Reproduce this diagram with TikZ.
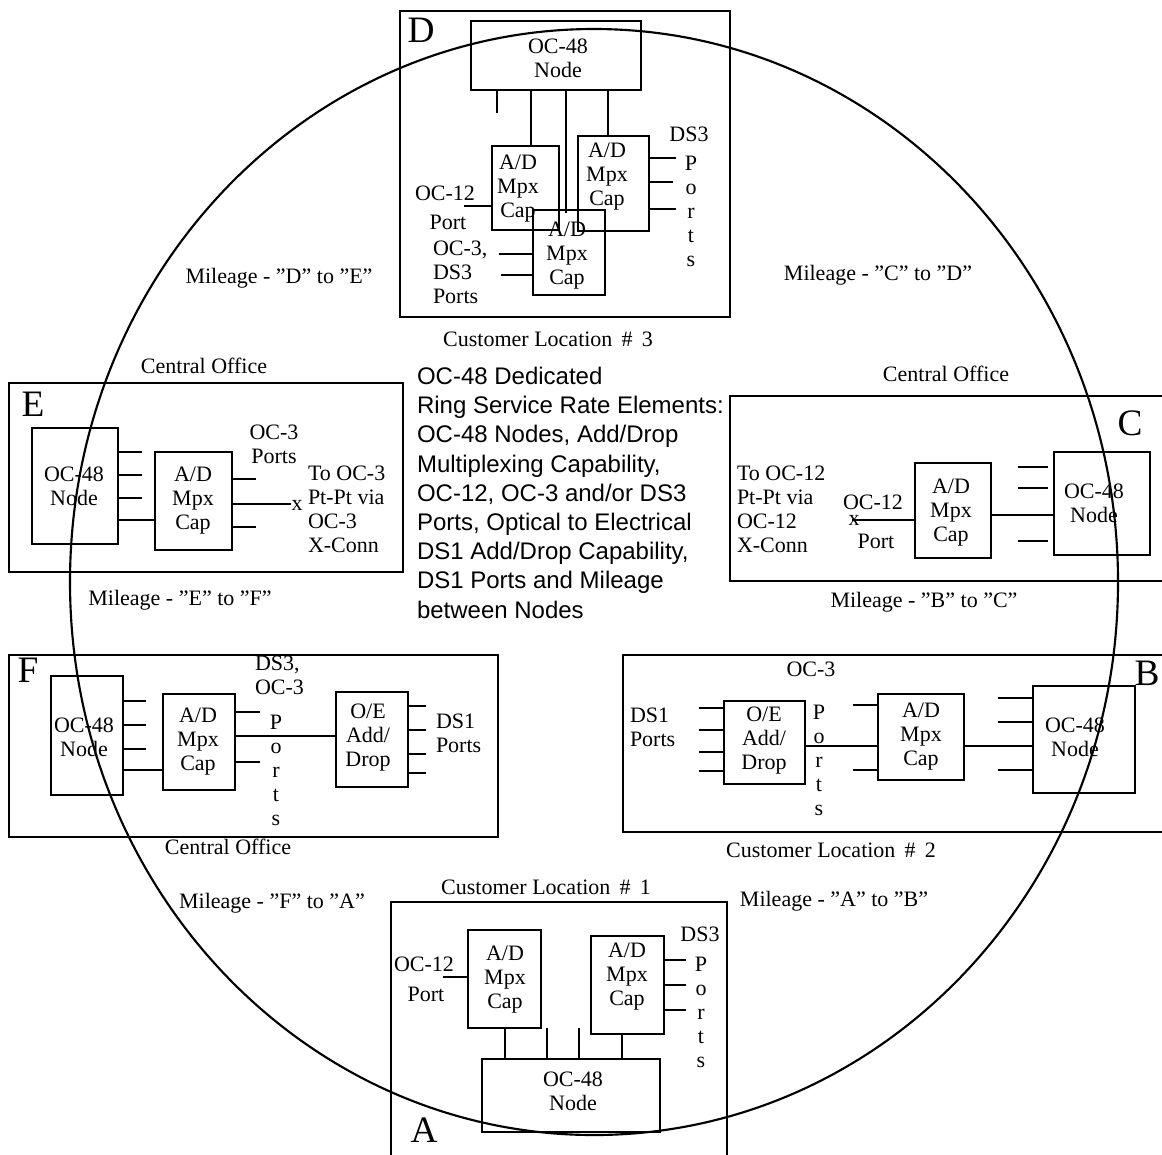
\documentclass[tikz,border=0pt]{standalone}
\usepackage{fontspec}
\setmainfont{Liberation Serif}
\newfontfamily\ringfont{Liberation Sans}
\usetikzlibrary{fit}
\tikzset{
  every node/.style={inner sep=0pt, outer sep=0pt},
  boxnode/.style={draw, line width=1.6pt},
  lab/.style={font=\fontsize{16.5}{18}\selectfont, align=center},
  labl/.style={font=\fontsize{16.5}{18}\selectfont, align=left},
  sitelab/.style={font=\fontsize{28}{30}\selectfont},
  stub/.style={line width=1.6pt}
}
\begin{document}
\begin{tikzpicture}[x=0.75pt, y=-0.75pt]
    \useasboundingbox (0,0) rectangle (1162,1154);
    % site D
    \node[boxnode, fit={(400,11) (730,317)}] (boxD) {};
    \node[boxnode, fit={(471,21) (641,90)}] (nodeD) {};
    \node[boxnode, fit={(492,146) (559,230)}] (capDa) {};
    \node[boxnode, fit={(578,136) (649,231)}] (capDb) {};
    \node[boxnode, fit={(533,210) (605,295)}] (capDc) {};
    \node[sitelab] (siteD) at (421,30) {D};
    \node[lab] (tNodeD) at (558,58) {OC-48\\Node};
    \node[lab] (tCapDa) at (518,189) {A/D\\Mpx\\Cap};
    \node[lab] (tCapDb) at (607,177) {A/D\\Mpx\\Cap};
    \node[lab] (tCapDc) at (567,256) {A/D\\Mpx\\Cap};
    \node[lab] (tDsD) at (689,134) {DS3};
    \node[lab] (tPortsD) at (691,211) {P\\o\\r\\t\\s};
    \node[lab] (tOcD) at (445,193) {OC-12};
    \node[lab] (tPortD) at (448,222) {Port};
    \node[labl, anchor=north west] (tOc3D) at (433,241) {OC-3,\\DS3\\Ports};
    \coordinate (dStubA) at (497,113);
    \draw[stub] (nodeD.south -| dStubA) -- (dStubA);
    \draw[stub] (nodeD.south -| 531,0) -- (capDa.north -| 531,0);
    \coordinate (dStubB) at (566,213);
    \draw[stub] (nodeD.south -| dStubB) -- (dStubB);
    \draw[stub] (nodeD.south -| 608,0) -- (capDb.north -| 608,0);
    \foreach \y/\x in {158/676, 182/673, 209/676} {
        \coordinate (dR\y) at (\x,\y);
        \draw[stub] (capDb.east |- dR\y) -- (dR\y);
    }
    \coordinate (dOc) at (464,206);
    \draw[stub] (capDa.west |- dOc) -- (dOc);
    \foreach \y/\x in {254/499, 275/501} {
        \coordinate (dL\y) at (\x,\y);
        \draw[stub] (capDc.west |- dL\y) -- (dL\y);
    }
    \node[lab] (custD) at (548,339) {Customer Location \,\#\, 3};
    % site E
    \node[boxnode, fit={(9,383) (403,572)}] (boxE) {};
    \node[boxnode, fit={(32,428) (118,544)}] (nodeE) {};
    \node[boxnode, fit={(155,452) (232,550)}] (capE) {};
    \node[sitelab] (siteE) at (33,404) {E};
    \node[lab] (tNodeE) at (74,486) {OC-48\\Node};
    \node[lab] (tCapE) at (193,501) {A/D\\Mpx\\Cap};
    \node[lab] (tOcE) at (274,444) {OC-3\\Ports};
    \node[labl, anchor=north west] (tToE) at (308,466) {To OC-3\\Pt-Pt via\\OC-3\\X-Conn};
    \node[lab] (tCrossE) at (297,505) {x};
    \foreach \y in {452,475,498} {
        \coordinate (eR\y) at (142,\y);
        \draw[stub] (nodeE.east |- eR\y) -- (eR\y);
    }
    \draw[stub] (nodeE.east |- 0,520) -- (capE.west |- 0,520);
    \foreach \y/\x in {479/256, 504/291, 527/256} {
        \coordinate (eS\y) at (\x,\y);
        \draw[stub] (capE.east |- eS\y) -- (eS\y);
    }
    \node[lab] (coE) at (204,366) {Central Office};
    % site C
    \node[boxnode, fit={(730,396) (1175,581)}] (boxC) {};
    \node[boxnode, fit={(1054,452) (1150,555)}] (nodeC) {};
    \node[boxnode, fit={(915,463) (991,558)}] (capC) {};
    \node[sitelab] (siteC) at (1130,423) {C};
    \node[lab] (tNodeC) at (1094,503) {OC-48\\Node};
    \node[lab] (tCapC) at (951,513) {A/D\\Mpx\\Cap};
    \node[labl, anchor=north west] (tToC) at (737,466) {To OC-12\\Pt-Pt via\\OC-12\\X-Conn};
    \node[lab] (tOcC) at (873,502) {OC-12};
    \node[lab] (tPortC) at (876,541) {Port};
    \node[lab] (tCrossC) at (854,520) {x};
    \coordinate (cOc) at (852,520);
    \draw[stub] (capC.west |- cOc) -- (cOc);
    \foreach \y in {467,488,541} {
        \coordinate (cL\y) at (1018,\y);
        \coordinate (cE\y) at (1048,\y);
        \draw[stub] (cL\y) -- (cE\y);
    }
    \draw[stub] (capC.east |- 0,515) -- (nodeC.west |- 0,515);
    \node[lab] (coC) at (946,374) {Central Office};
    \node[lab] (mileBC) at (924,602) {Mileage - "B" to "C"};
    % site F
    \node[boxnode, fit={(9,655) (498,837)}] (boxF) {};
    \node[boxnode, fit={(51,676) (123,795)}] (nodeF) {};
    \node[boxnode, fit={(163,694) (235,790)}] (capF) {};
    \node[boxnode, fit={(336,692) (408,787)}] (oeF) {};
    \node[sitelab] (siteF) at (28,670) {F};
    \node[lab] (tNodeF) at (84,737) {OC-48\\Node};
    \node[lab] (tCapF) at (198,742) {A/D\\Mpx\\Cap};
    \node[lab] (tOeF) at (368,738) {O/E\\Add/\\Drop};
    \node[labl, anchor=north west] (tDsF) at (255,656) {DS3,\\OC-3};
    \node[lab] (tPortsF) at (276,770) {P\\o\\r\\t\\s};
    \node[labl, anchor=north west] (tDs1F) at (436,714) {DS1\\Ports};
    \foreach \y in {701,725,749} {
        \coordinate (fR\y) at (146,\y);
        \draw[stub] (nodeF.east |- fR\y) -- (fR\y);
    }
    \draw[stub] (nodeF.east |- 0,770) -- (capF.west |- 0,770);
    \coordinate (fS712) at (260,712);
    \coordinate (fS762) at (260,762);
    \draw[stub] (capF.east |- fS712) -- (fS712);
    \draw[stub] (capF.east |- fS762) -- (fS762);
    \draw[stub] (capF.east |- 0,736) -- (oeF.west |- 0,736);
    \foreach \y in {706,730,754,773} {
        \coordinate (fT\y) at (426,\y);
        \draw[stub] (oeF.east |- fT\y) -- (fT\y);
    }
    \node[lab] (coF) at (228,847) {Central Office};
    % site B
    \node[boxnode, fit={(623,655) (1175,832)}] (boxB) {};
    \node[boxnode, fit={(1033,686) (1135,793)}] (nodeB) {};
    \node[boxnode, fit={(878,694) (964,780)}] (capB) {};
    \node[boxnode, fit={(724,701) (805,784)}] (oeB) {};
    \node[sitelab] (siteB) at (1147,673) {B};
    \node[lab] (tNodeB) at (1075,737) {OC-48\\Node};
    \node[lab] (tCapB) at (921,737) {A/D\\Mpx\\Cap};
    \node[lab] (tOeB) at (764,741) {O/E\\Add/\\Drop};
    \node[lab] (tOcB) at (811,669) {OC-3};
    \node[lab] (tPortsB) at (819,760) {P\\o\\r\\t\\s};
    \node[labl, anchor=north west] (tDs1B) at (630,708) {DS1\\Ports};
    \foreach \y in {708,730,752,771} {
        \coordinate (bL\y) at (699,\y);
        \draw[stub] (oeB.west |- bL\y) -- (bL\y);
    }
    \draw[stub] (oeB.east |- 0,746) -- (capB.west |- 0,746);
    \foreach \y in {705,770} {
        \coordinate (bM\y) at (853,\y);
        \draw[stub] (capB.west |- bM\y) -- (bM\y);
    }
    \draw[stub] (capB.east |- 0,746) -- (nodeB.west |- 0,746);
    \foreach \y in {698,722,770} {
        \coordinate (bN\y) at (998,\y);
        \draw[stub] (nodeB.west |- bN\y) -- (bN\y);
    }
    \node[lab] (custB) at (831,850) {Customer Location \,\#\, 2};
    % site A
    \node[boxnode, fit={(391,902) (727,1170)}] (boxA) {};
    \node[boxnode, fit={(482,1059) (660,1132)}] (nodeA) {};
    \node[boxnode, fit={(468,930) (541,1028)}] (capAa) {};
    \node[boxnode, fit={(591,936) (664,1034)}] (capAb) {};
    \node[sitelab] (siteA) at (424,1130) {A};
    \node[lab] (tNodeA) at (573,1091) {OC-48\\Node};
    \node[lab] (tCapAa) at (505,980) {A/D\\Mpx\\Cap};
    \node[lab] (tCapAb) at (627,977) {A/D\\Mpx\\Cap};
    \node[lab] (tOcA) at (424,964) {OC-12};
    \node[lab] (tPortA) at (426,994) {Port};
    \node[lab] (tDsA) at (700,934) {DS3};
    \node[lab] (tPortsA) at (701,1012) {P\\o\\r\\t\\s};
    \coordinate (aOc) at (443,977);
    \draw[stub] (capAa.west |- aOc) -- (aOc);
    \foreach \y in {960,985,1010} {
        \coordinate (aR\y) at (686,\y);
        \draw[stub] (capAb.east |- aR\y) -- (aR\y);
    }
    \draw[stub] (capAa.south -| 505,0) -- (nodeA.north -| 505,0);
    \foreach \x in {547,579} {
        \coordinate (aT\x) at (\x,1028);
        \draw[stub] (nodeA.north -| aT\x) -- (aT\x);
    }
    \draw[stub] (capAb.south -| 622,0) -- (nodeA.north -| 622,0);
    \node[lab] (custA) at (546,887) {Customer Location \,\#\, 1};
    % ring and mileage
    \draw[stub] (594,582) ellipse [x radius=524, y radius=553];
    \node[lab] (mileDE) at (279,278) {Mileage - "D" to "E"};
    \node[lab] (mileCD) at (878,275) {Mileage - "C" to "D"};
    \node[lab] (mileEF) at (180,600) {Mileage - "E" to "F"};
    \node[lab] (mileFA) at (272,903) {Mileage - "F" to "A"};
    \node[lab] (mileAB) at (834,901) {Mileage - "A" to "B"};
    \node[font=\ringfont\fontsize{18}{21.9}\selectfont, align=left, anchor=north west] (ringText) at (417,367)
        {OC-48 Dedicated\\Ring Service Rate Elements:\\OC-48 Nodes, Add/Drop\\Multiplexing Capability,\\OC-12, OC-3 and/or DS3\\Ports, Optical to Electrical\\DS1 Add/Drop Capability,\\DS1 Ports and Mileage\\between Nodes};
\end{tikzpicture}
\end{document}
